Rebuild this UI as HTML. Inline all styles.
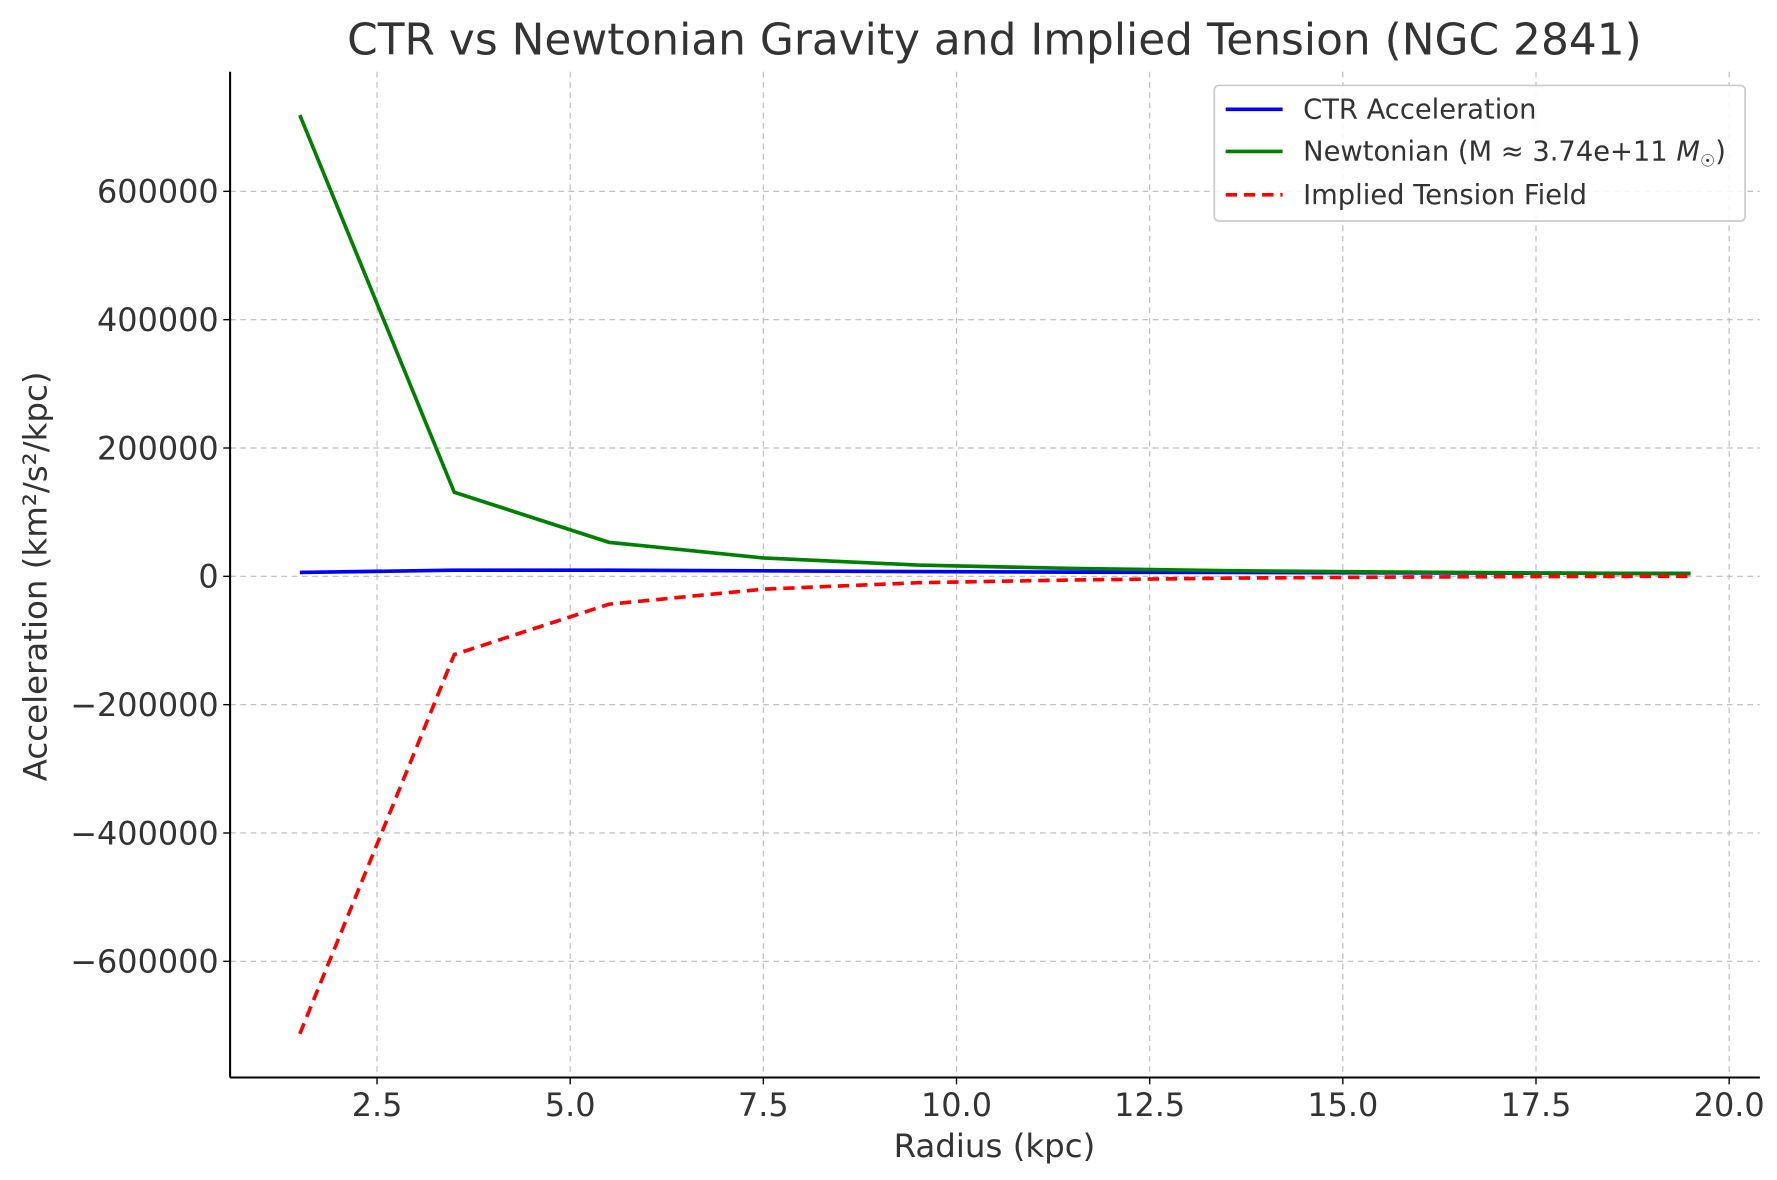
<!DOCTYPE html>
<html><head><meta charset="utf-8"><style>
html,body{margin:0;padding:0;background:#fff;}
svg{display:block;font-family:"DejaVu Sans","Liberation Sans",sans-serif;}
</style></head><body>
<svg id="chart" width="1777" height="1180" viewBox="0 0 1560 1036" preserveAspectRatio="none" xmlns="http://www.w3.org/2000/svg">
<rect width="1560" height="1036" fill="#fff"/>
<g id="grid"></g>
<g id="series"></g>
<g id="axes"></g>
<text x="873" y="48" font-size="38.5" text-anchor="middle" fill="#333">CTR vs Newtonian Gravity and Implied Tension (NGC 2841)</text>
<text x="873" y="1016" font-size="28.5" text-anchor="middle" fill="#333">Radius (kpc)</text>
<text transform="translate(41,506) rotate(-90)" font-size="28.5" text-anchor="middle" fill="#333">Acceleration (km²/s²/kpc)</text>
<g>
<rect x="1066" y="75" width="466" height="119" rx="4" fill="#fff" fill-opacity="0.85" stroke="#ccc" stroke-width="1.5"/>
<line x1="1076" y1="96" x2="1126" y2="96" stroke="#0000ff" stroke-width="3.2"/>
<text x="1144" y="104" font-size="24" fill="#333">CTR Acceleration</text>
<line x1="1076" y1="133" x2="1126" y2="133" stroke="#008000" stroke-width="3.2"/>
<text x="1144" y="141" font-size="24" fill="#333">Newtonian (M ≈ 3.74e+11 <tspan font-style="italic">M</tspan><tspan font-size="15" dy="5">☉</tspan><tspan dy="-5">)</tspan></text>
<line x1="1076" y1="171" x2="1126" y2="171" stroke="#ff0000" stroke-width="3.2" stroke-dasharray="10,6"/>
<text x="1144" y="179" font-size="24" fill="#333">Implied Tension Field</text>
</g>
</svg>
<script>
const radius = [1.5, 3.5, 5.5, 7.5, 9.5, 11.5, 13.5, 15.5, 17.5, 19.5];
const ctrValues = [6000, 9500, 9500, 8500, 7500, 6500, 6000, 5500, 5000, 4500];
const newtonValues = [719000, 131000, 53000, 28500, 17500, 12200, 8900, 6800, 5300, 4300];
const tensionValues = [-713000, -122000, -43500, -20000, -10000, -5700, -2900, -1300, -300, 200];
const xTicks = [2.5, 5.0, 7.5, 10.0, 12.5, 15.0, 17.5, 20.0];
const xTickLabels = ["2.5", "5.0", "7.5", "10.0", "12.5", "15.0", "17.5", "20.0"];
const yTicks = [-600000, -400000, -200000, 0, 200000, 400000, 600000];
const yTickLabels = ["−600000", "−400000", "−200000", "0", "200000", "400000", "600000"];

const NS = "http://www.w3.org/2000/svg";
const L = 202, R = 1545, T = 63, B = 946;
function xs(v){ return 331 + (v - 2.5) * (1518 - 331) / 17.5; }
function ys(v){ return 506 - v * 338 / 600000; }
function mk(tag, attrs, parent){ const e = document.createElementNS(NS, tag); for (const k in attrs) e.setAttribute(k, attrs[k]); parent.appendChild(e); return e; }
const grid = document.getElementById('grid'), axes = document.getElementById('axes'), series = document.getElementById('series');
xTicks.forEach((t, i) => {
  const g = mk('line', {x1: xs(t), x2: xs(t), y1: T, y2: B, stroke: '#bbb', 'stroke-width': 1, 'stroke-dasharray': '5,4'}, grid);
  
  
  const tk = mk('line', {x1: xs(t), x2: xs(t), y1: B, y2: B + 6, stroke: '#000', 'stroke-width': 1.2}, axes);
  
  
  const tx = mk('text', {x: xs(t), y: B + 34, 'font-size': 28, 'text-anchor': 'middle', fill: '#333'}, axes);
  tx.textContent = xTickLabels[i];
  
  
});
yTicks.forEach((t, i) => {
  const g = mk('line', {x1: L, x2: R, y1: ys(t), y2: ys(t), stroke: '#bbb', 'stroke-width': 1, 'stroke-dasharray': '5,4'}, grid);
  
  
  const tk = mk('line', {x1: L - 6, x2: L, y1: ys(t), y2: ys(t), stroke: '#000', 'stroke-width': 1.2}, axes);
  
  
  const tx = mk('text', {x: L - 10, y: ys(t) + 10, 'font-size': 28, 'text-anchor': 'end', fill: '#333'}, axes);
  tx.textContent = yTickLabels[i];
  
  
});
const sl = mk('line', {x1: L, x2: L, y1: T, y2: B, stroke: '#000', 'stroke-width': 1.8}, axes);


const sb = mk('line', {x1: L, x2: R, y1: B, y2: B, stroke: '#000', 'stroke-width': 1.8}, axes);


function pts(vals){ return vals.map((v, i) => xs(radius[i]).toFixed(1) + ',' + ys(v).toFixed(1)).join(' '); }
const p1 = mk('polyline', {points: pts(ctrValues), fill: 'none', stroke: '#0000ff', 'stroke-width': 3.2}, series);


const p2 = mk('polyline', {points: pts(newtonValues), fill: 'none', stroke: '#008000', 'stroke-width': 3.2}, series);


const p3 = mk('polyline', {points: pts(tensionValues), fill: 'none', stroke: '#ff0000', 'stroke-width': 3.2, 'stroke-dasharray': '10,6'}, series);


</script>
</body></html>
